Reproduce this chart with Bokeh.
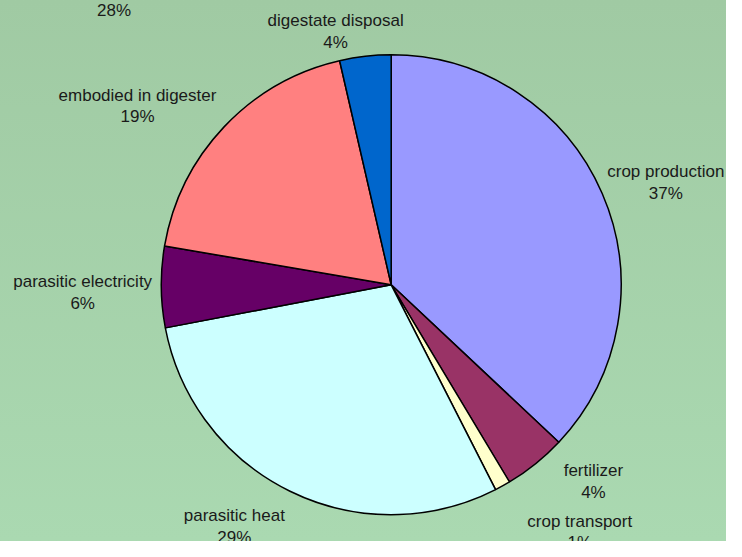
import math
from bokeh.plotting import figure
from bokeh.models import Range1d, ColumnDataSource
from bokeh.core.properties import value
from bokeh.embed import file_html
from bokeh.resources import INLINE

# ---- data ----
categories = ["crop production", "fertilizer", "crop transport", "parasitic heat",
              "parasitic electricity", "embodied in digester", "digestate disposal"]
shares = [37.0, 4.4, 1.1, 29.5, 5.7, 18.7, 3.6]
pct_labels = ["37%", "4%", "1%", "29%", "6%", "19%", "4%"]
colors = ["#9999ff", "#993366", "#ffffcc", "#ccffff", "#660066", "#ff8080", "#0066cc"]
stray_label = "28%"

# ---- layout (reference pixel coordinates, y measured from top) ----
W, H = 742, 557
cx, cy, R = 399.3, 292.7, 235
label_x = [680, 606, 592, 239, 84, 140, 342.5]
label_base = [176, 484.3, 536, 530, 289, 97.3, 21]
line_gap = 22.5
stray_xy = (116, 10.5)

total = sum(shares)
starts, ends = [], []
cum = 0.0
for s in shares:
    starts.append(math.pi / 2 - 2 * math.pi * cum / total)
    cum += s
    ends.append(math.pi / 2 - 2 * math.pi * cum / total)

src = ColumnDataSource(dict(cat=categories, start=starts, end=ends, color=colors))

p = figure(width=726, height=541, output_backend="svg", toolbar_location=None,
           x_range=Range1d(0, W), y_range=Range1d(0, H),
           min_border=0, outline_line_color=None)
p.axis.visible = False
p.grid.visible = False
p.background_fill_color = None
p.border_fill_color = None
p.styles = {"background": "linear-gradient(to bottom, #a0caa3, #aad9b1)"}

p.wedge(x=cx, y=H - cy, radius=R, start_angle="start", end_angle="end",
        direction="clock", fill_color="color", line_color="black", line_width=1.5,
        source=src)

font = value("Liberation Sans")
fs = "17px"
lsrc = ColumnDataSource(dict(
    x=label_x,
    y1=[H - b for b in label_base],
    y2=[H - b - line_gap for b in label_base],
    name=categories, pct=pct_labels))
p.text(x="x", y="y1", text="name", source=lsrc, text_font=font,
       text_font_size=fs, text_align="center", text_baseline="alphabetic",
       text_color="#1a1a1a")
p.text(x="x", y="y2", text="pct", source=lsrc, text_font=font,
       text_font_size=fs, text_align="center", text_baseline="alphabetic",
       text_color="#1a1a1a")
p.text(x=[stray_xy[0]], y=[H - stray_xy[1]], text=[stray_label], text_font=font,
       text_font_size=fs, text_align="center", text_baseline="alphabetic",
       text_color="#1a1a1a")

open("out.html", "w").write(file_html(p, INLINE))
